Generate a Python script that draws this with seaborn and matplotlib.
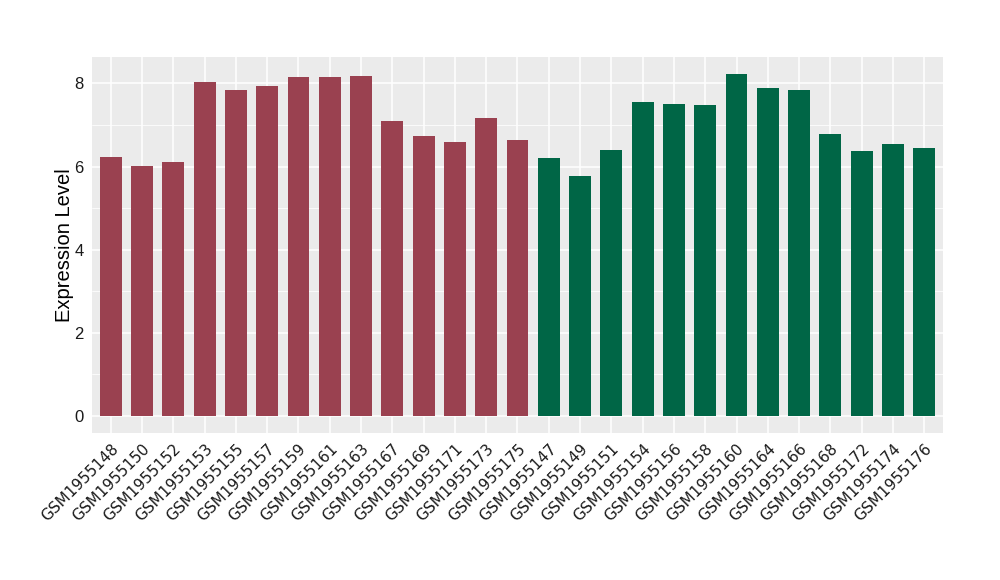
import matplotlib
matplotlib.use("Agg")
import matplotlib.pyplot as plt
import seaborn as sns
import pandas as pd

samples = ["GSM1955148", "GSM1955150", "GSM1955152", "GSM1955153", "GSM1955155",
           "GSM1955157", "GSM1955159", "GSM1955161", "GSM1955163", "GSM1955167",
           "GSM1955169", "GSM1955171", "GSM1955173", "GSM1955175",
           "GSM1955147", "GSM1955149", "GSM1955151", "GSM1955154", "GSM1955156",
           "GSM1955158", "GSM1955160", "GSM1955164", "GSM1955166", "GSM1955168",
           "GSM1955172", "GSM1955174", "GSM1955176"]
expression = [6.23, 6.01, 6.11, 8.03, 7.84, 7.93, 8.15, 8.15, 8.17, 7.09,
              6.73, 6.59, 7.16, 6.63,
              6.20, 5.77, 6.39, 7.55, 7.50, 7.48, 8.22, 7.88, 7.84, 6.78,
              6.37, 6.54, 6.44]
groups = ["A"] * 14 + ["B"] * 13
group_colors = {"A": "#9A4150", "B": "#006646"}

df = pd.DataFrame({"sample": samples, "value": expression, "group": groups})

sns.set_style("white")
plt.rcParams["font.family"] = ["Liberation Sans", "DejaVu Sans"]

fig = plt.figure(figsize=(10, 5.8), dpi=100)
ax = fig.add_axes([0.092, 0.2534, 0.851, 0.648])
ax.set_facecolor("#EBEBEB")

sns.barplot(data=df, x="sample", y="value", hue="group", palette=group_colors,
            order=samples, width=0.7, dodge=False, legend=False, ax=ax,
            saturation=1, linewidth=0, zorder=3)

ax.set_xlim(-0.6, len(samples) - 0.4)
ax.set_ylim(-0.41, 8.63)
ax.set_yticks([0, 2, 4, 6, 8])
ax.set_yticks([1, 3, 5, 7], minor=True)
ax.grid(True, which="major", color="white", linewidth=1.1, zorder=0)
ax.grid(True, which="minor", axis="y", color="white", linewidth=0.55, zorder=0)
ax.set_axisbelow(True)
for s in ax.spines.values():
    s.set_visible(False)

ax.tick_params(axis="both", which="major", length=4, width=0.8, color="#333333",
               labelsize=12, labelcolor="#1a1a1a", pad=2)
ax.tick_params(axis="y", which="minor", length=0)
for lab in ax.get_xticklabels():
    lab.set_family("DejaVu Sans")
    lab.set_fontsize(11)
    lab.set_rotation(45)
    lab.set_ha("right")
    lab.set_rotation_mode("anchor")

ax.set_xlabel("")
ax.set_ylabel("Expression Level", fontsize=14.5, color="black", labelpad=0)

fig.savefig("out.png", dpi=100)
